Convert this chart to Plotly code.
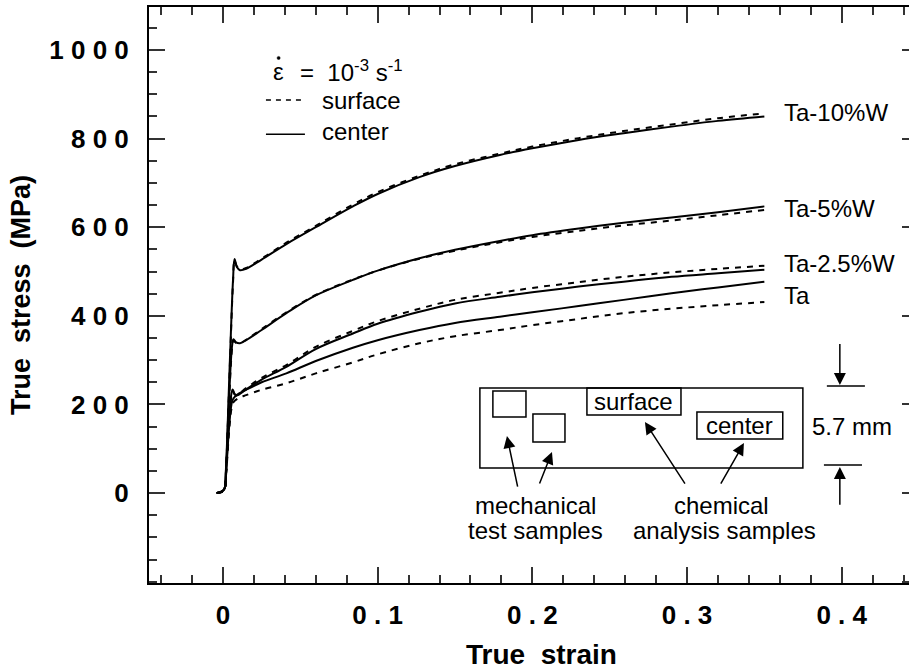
import plotly.graph_objects as go

# ---------------- data (true strain, true stress MPa) ----------------
ta10_center_strain = [-0.004, -0.001, 0.001, 0.002, 0.0045, 0.0065, 0.0075, 0.009, 0.011, 0.015, 0.025, 0.041, 0.06, 0.084, 0.1, 0.127, 0.15, 0.179, 0.2, 0.23, 0.259, 0.29, 0.32, 0.35]
ta10_center_stress = [0, 3, 10, 60, 300, 480, 528, 510, 503, 506, 527, 562, 600, 647, 675, 713, 738, 763, 778, 797, 812, 827, 840, 850]
ta10_surface_strain = [-0.004, -0.001, 0.001, 0.002, 0.0045, 0.0065, 0.0075, 0.009, 0.011, 0.015, 0.025, 0.041, 0.06, 0.084, 0.1, 0.127, 0.15, 0.179, 0.2, 0.23, 0.259, 0.29, 0.32, 0.35]
ta10_surface_stress = [0, 2, 8, 55, 290, 475, 525, 512, 505, 508, 529, 565, 603, 651, 679, 716, 742, 766, 782, 801, 817, 832, 846, 857]

ta5_center_strain = [-0.004, -0.001, 0.001, 0.002, 0.004, 0.006, 0.0068, 0.0085, 0.011, 0.015, 0.025, 0.041, 0.06, 0.084, 0.1, 0.127, 0.15, 0.179, 0.2, 0.23, 0.259, 0.29, 0.32, 0.35]
ta5_center_stress = [0, 3, 10, 50, 220, 335, 347, 340, 338, 345, 368, 406, 446, 481, 502, 530, 549, 569, 582, 597, 610, 622, 634, 647]
ta5_surface_strain = [-0.004, -0.001, 0.001, 0.002, 0.004, 0.006, 0.0068, 0.0085, 0.011, 0.015, 0.025, 0.041, 0.06, 0.084, 0.1, 0.127, 0.15, 0.179, 0.2, 0.23, 0.259, 0.29, 0.32, 0.35]
ta5_surface_stress = [0, 2, 8, 45, 210, 330, 344, 339, 338, 346, 370, 408, 447, 482, 502, 529, 547, 566, 578, 592, 604, 615, 627, 639]

ta25_center_strain = [-0.004, -0.001, 0.001, 0.002, 0.004, 0.0055, 0.0063, 0.0075, 0.0088, 0.015, 0.025, 0.041, 0.06, 0.084, 0.1, 0.127, 0.15, 0.179, 0.2, 0.23, 0.259, 0.29, 0.32, 0.35]
ta25_center_stress = [0, 3, 10, 50, 170, 225, 234, 224, 220, 234, 256, 285, 325, 360, 382, 409, 428, 443, 453, 466, 477, 488, 496, 504]
ta25_surface_strain = [-0.004, -0.001, 0.001, 0.002, 0.004, 0.0055, 0.0063, 0.0075, 0.0088, 0.015, 0.025, 0.041, 0.06, 0.084, 0.1, 0.127, 0.15, 0.179, 0.2, 0.23, 0.259, 0.29, 0.32, 0.35]
ta25_surface_stress = [0, 2, 8, 45, 160, 220, 230, 223, 221, 237, 260, 289, 330, 366, 388, 416, 436, 452, 463, 476, 488, 498, 506, 513]

ta_center_strain = [-0.004, -0.001, 0.001, 0.002, 0.004, 0.0055, 0.0065, 0.0088, 0.015, 0.025, 0.041, 0.06, 0.084, 0.1, 0.127, 0.15, 0.179, 0.2, 0.23, 0.259, 0.29, 0.32, 0.35]
ta_center_stress = [0, 3, 10, 45, 150, 200, 212, 221, 233, 250, 270, 298, 328, 345, 368, 384, 398, 408, 422, 436, 451, 464, 477]
ta_surface_strain = [-0.004, -0.001, 0.001, 0.002, 0.004, 0.0055, 0.0068, 0.01, 0.015, 0.025, 0.041, 0.06, 0.084, 0.1, 0.127, 0.15, 0.179, 0.2, 0.23, 0.259, 0.29, 0.32, 0.35]
ta_surface_stress = [0, 2, 8, 40, 140, 190, 205, 214, 221, 233, 248, 270, 295, 313, 338, 354, 368, 379, 393, 406, 416, 424, 431]

curve_labels = ["Ta-10%W", "Ta-5%W", "Ta-2.5%W", "Ta"]
curve_label_stress = [858, 643, 519, 447]

x_tickvals = [0, 0.1, 0.2, 0.3, 0.4]
x_ticktext = ["0", "0 . 1", "0 . 2", "0 . 3", "0 . 4"]
y_tickvals = [0, 200, 400, 600, 800, 1000]
y_ticktext = ["0", "2 0 0", "4 0 0", "6 0 0", "8 0 0", "1 0 0 0"]

# ---------------- figure ----------------
BLACK = "#000000"
FONT = "Arial, 'Liberation Sans', sans-serif"

fig = go.Figure()

pairs = [
    (ta10_center_strain, ta10_center_stress, ta10_surface_strain, ta10_surface_stress),
    (ta5_center_strain, ta5_center_stress, ta5_surface_strain, ta5_surface_stress),
    (ta25_center_strain, ta25_center_stress, ta25_surface_strain, ta25_surface_stress),
    (ta_center_strain, ta_center_stress, ta_surface_strain, ta_surface_stress),
]
for cx, cy, sx, sy in pairs:
    fig.add_trace(go.Scatter(x=sx, y=sy, mode="lines", line=dict(color=BLACK, width=2, dash="6px,6px"),
                             line_shape="spline", showlegend=False, hoverinfo="skip"))
    fig.add_trace(go.Scatter(x=cx, y=cy, mode="lines", line=dict(color=BLACK, width=2),
                             line_shape="spline", showlegend=False, hoverinfo="skip"))

# empty traces so the mirror-tick axes (top, right) are drawn
fig.add_trace(go.Scatter(x=[], y=[], xaxis="x2", yaxis="y", showlegend=False, hoverinfo="skip"))
fig.add_trace(go.Scatter(x=[], y=[], xaxis="x", yaxis="y2", showlegend=False, hoverinfo="skip"))

annotations = []
for lab, ys in zip(curve_labels, curve_label_stress):
    annotations.append(dict(x=0.3613, y=ys, xref="x", yref="y", text=lab, showarrow=False,
                            xanchor="left", yanchor="middle", font=dict(family=FONT, size=24, color=BLACK)))

lg_font = dict(family=FONT, size=24, color=BLACK)
# legend block: strain-rate line (epsilon with an overdot drawn as a small filled circle)
annotations.append(dict(x=0.0359, y=952, xref="x", yref="y", text="\u03b5", showarrow=False,
                        xanchor="center", yanchor="middle", font=lg_font))
annotations.append(dict(x=0.0485, y=952, xref="x", yref="y",
                        text="=  10<sup>-3</sup> s<sup>-1</sup>", showarrow=False,
                        xanchor="left", yanchor="middle", font=lg_font))
annotations.append(dict(x=0.0627, y=887, xref="x", yref="y", text="surface", showarrow=False,
                        xanchor="left", yanchor="middle", font=lg_font))
annotations.append(dict(x=0.0627, y=815, xref="x", yref="y", text="center", showarrow=False,
                        xanchor="left", yanchor="middle", font=lg_font))

# inset diagram texts
inset_font = dict(family=FONT, size=24, color=BLACK)
for txt, xx, yy in [("surface", 0.2657, 207.6), ("center", 0.3342, 153.5), ("5.7 mm", 0.4066, 151.2),
                    ("mechanical", 0.2023, -27.1), ("test samples", 0.2023, -83.5),
                    ("chemical", 0.3226, -27.1), ("analysis samples", 0.3245, -83.5)]:
    annotations.append(dict(x=xx, y=yy, xref="x", yref="y", text=txt, showarrow=False,
                            xanchor="center", yanchor="middle", font=inset_font))

# arrows (head x,y ; tail ax,ay)
for hx, hy, tx, ty in [(0.1836, 128.6, 0.1907, 11.3), (0.2127, 92.5, 0.2043, 18.1),
                       (0.2728, 160.2, 0.2993, 18.1), (0.3368, 112.8, 0.3213, 18.1),
                       (0.3988, 243.7, 0.3988, 340.0), (0.3988, 58.7, 0.3988, -30.0)]:
    annotations.append(dict(x=hx, y=hy, ax=tx, ay=ty, xref="x", yref="y", axref="x", ayref="y",
                            text="", showarrow=True, arrowhead=2, arrowsize=1.6, arrowwidth=1.5,
                            arrowcolor=BLACK, standoff=0))

# axis titles (paper coordinates)
annotations.append(dict(x=-0.1684, y=0.5, xref="paper", yref="paper", text="True  stress  (MPa)",
                        showarrow=False, textangle=-90, xanchor="center", yanchor="middle",
                        font=dict(family=FONT, size=27, color=BLACK, weight="bold")))
annotations.append(dict(x=0.5158, y=-0.124, xref="paper", yref="paper", text="True  strain",
                        showarrow=False, xanchor="center", yanchor="middle",
                        font=dict(family=FONT, size=28, color=BLACK, weight="bold")))

shapes = []
rect_line = dict(color=BLACK, width=1.5)
for x0, x1, y0, y1 in [(0.1661, 0.3749, 56.4, 237.0), (0.1745, 0.1959, 171.5, 230.2),
                       (0.2004, 0.2211, 115.1, 178.3), (0.2353, 0.2961, 176.0, 237.0),
                       (0.3064, 0.3619, 121.9, 182.8)]:
    shapes.append(dict(type="rect", xref="x", yref="y", x0=x0, x1=x1, y0=y0, y1=y1, line=rect_line))
for x0, x1, yy in [(0.3904, 0.4150, 241.5), (0.3885, 0.4131, 63.2)]:
    shapes.append(dict(type="line", xref="x", yref="y", x0=x0, x1=x1, y0=yy, y1=yy, line=rect_line))
# legend samples
shapes.append(dict(type="line", xref="x", yref="y", x0=0.0278, x1=0.0530, y0=887, y1=887,
                   line=dict(color=BLACK, width=1.5, dash="5px,5px")))
shapes.append(dict(type="line", xref="x", yref="y", x0=0.0278, x1=0.0530, y0=810, y1=810,
                   line=dict(color=BLACK, width=1.5)))
# overdot of the strain-rate symbol
shapes.append(dict(type="circle", xref="x", yref="y", x0=0.0350, x1=0.0370, y0=978.5, y1=985.5,
                   fillcolor=BLACK, line=dict(color=BLACK, width=0.5)))

tick_font = dict(family=FONT, size=26, color=BLACK, weight="bold")
XR = [-0.0478, 0.4435]
YR = [-203, 1097]

fig.update_layout(
    width=909, height=669,
    margin=dict(l=149, r=0, t=7, b=86),
    paper_bgcolor="white", plot_bgcolor="white",
    showlegend=False,
    annotations=annotations, shapes=shapes,
    xaxis=dict(range=XR, showgrid=False, zeroline=False,
               showline=True, linecolor=BLACK, linewidth=2, mirror=True,
               ticks="inside", ticklen=16, tickwidth=1.5, tickcolor="#333",
               tickmode="array", tickvals=x_tickvals, ticktext=x_ticktext,
               tickfont=tick_font, ticklabelstandoff=8,
               minor=dict(ticks="inside", ticklen=8, tickwidth=1.5, tickcolor="#333",
                          tick0=0, dtick=0.02, showgrid=False)),
    xaxis2=dict(range=XR, overlaying="x", side="top", anchor="y",
                showgrid=False, zeroline=False, showline=False, showticklabels=False,
                ticks="inside", ticklen=16, tickwidth=1.5, tickcolor="#333",
                tickmode="array", tickvals=x_tickvals,
                minor=dict(ticks="inside", ticklen=8, tickwidth=1.5, tickcolor="#333",
                           tick0=0, dtick=0.02, showgrid=False)),
    yaxis=dict(range=YR, showgrid=False, zeroline=False,
               showline=True, linecolor=BLACK, linewidth=2,
               ticks="inside", ticklen=16, tickwidth=1.5, tickcolor="#333",
               tickmode="array", tickvals=y_tickvals, ticktext=y_ticktext,
               tickfont=tick_font, ticklabelstandoff=13,
               minor=dict(ticks="inside", ticklen=8, tickwidth=1.5, tickcolor="#333",
                          tick0=0, dtick=50, showgrid=False)),
    yaxis2=dict(range=YR, overlaying="y", side="right", anchor="x",
                showgrid=False, zeroline=False, showline=False, showticklabels=False,
                ticks="inside", ticklen=7, tickwidth=1.5, tickcolor="#333",
                tickmode="array", tickvals=[-200, 0, 200, 400, 600, 800, 1000]),
)

fig.write_html("out.html")
